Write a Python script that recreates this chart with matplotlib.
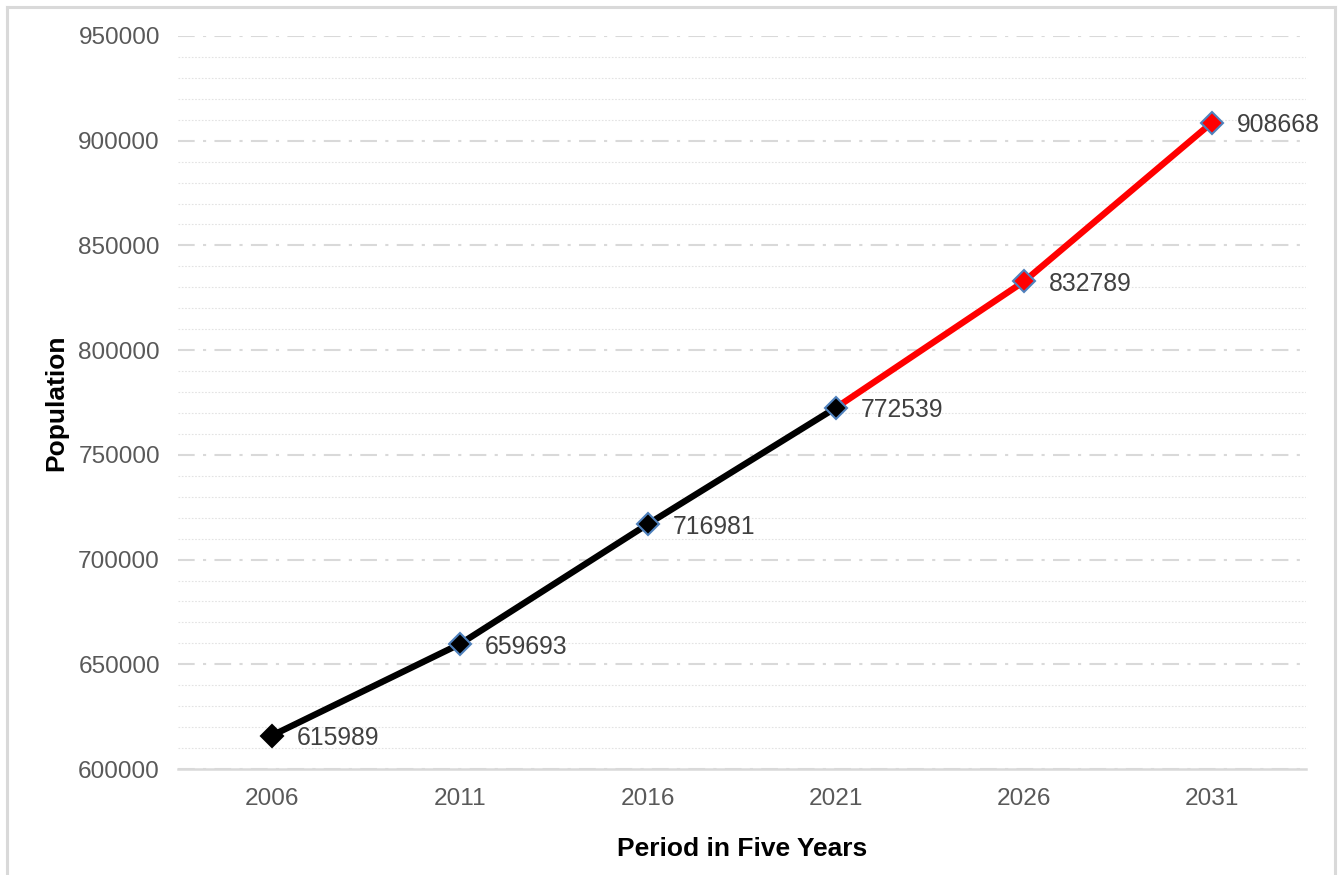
import matplotlib
matplotlib.use("Agg")
import matplotlib.pyplot as plt
from matplotlib.lines import Line2D
from matplotlib.ticker import MultipleLocator

# Data
years = ["2006", "2011", "2016", "2021", "2026", "2031"]
population = [615989, 659693, 716981, 772539, 832789, 908668]
n_actual = 4  # 2006-2021 are census values, the rest are projections

plt.rcParams["font.family"] = ["Liberation Sans", "DejaVu Sans"]

fig = plt.figure(figsize=(13.4, 8.75), dpi=100)
ax = fig.add_axes([178 / 1340, 1 - 769 / 875, 1128 / 1340, 733 / 875])

x = list(range(len(years)))

# Lines: black for actual, red for projected
ax.plot(x[:n_actual], population[:n_actual], color="black", lw=4.6,
        solid_capstyle="butt", zorder=3)
ax.plot(x[n_actual - 1:], population[n_actual - 1:], color="#ff0000", lw=4.6,
        solid_capstyle="butt", zorder=3)

# Markers and value labels
for i, (xi, yi) in enumerate(zip(x, population)):
    face = "black" if i < n_actual else "#ff0000"
    edge = "black" if i == 0 else "#4f81bd"
    ax.plot(xi, yi, marker="D", ms=11, mfc=face, mec=edge, mew=1.5, zorder=4)
    ax.annotate(str(yi), (xi, yi), xytext=(18, -2), textcoords="offset points",
                va="center", ha="left", fontsize=17.8, color="#404040")

ax.set_xlim(-0.5, len(years) - 0.5)
ax.set_ylim(600000, 950000)
ax.set_xticks(x)
ax.set_xticklabels(years)
ax.yaxis.set_major_locator(MultipleLocator(50000))
ax.yaxis.set_minor_locator(MultipleLocator(10000))

ax.grid(which="major", axis="y", color="#d9d9d9", lw=1.5, ls=(0, (8, 4, 1.5, 4)))
ax.grid(which="minor", axis="y", color="#e3e3e3", lw=0.8, ls=(0, (1.5, 1.5)))
ax.set_axisbelow(True)

for side in ["top", "right", "left"]:
    ax.spines[side].set_visible(False)
ax.spines["bottom"].set_color("#d9d9d9")
ax.spines["bottom"].set_linewidth(1.8)

ax.tick_params(axis="both", which="both", length=0, labelsize=17.6,
               labelcolor="#595959")
ax.tick_params(axis="y", pad=13)
ax.tick_params(axis="x", pad=14)

ax.set_ylabel("Population", fontsize=19, fontweight="bold")
ax.set_xlabel("Period in Five Years", fontsize=19, fontweight="bold")
ax.yaxis.set_label_coords(-110 / 1128, 0.5)
ax.xaxis.set_label_coords(0.5, -68 / 733)

# Light grey frame around the chart (bottom edge runs off the image)
frame = dict(color="#d9d9d9", lw=2.2, transform=fig.transFigure)
fig.add_artist(Line2D([7 / 1340, 7 / 1340], [0, 1 - 7 / 875], **frame))
fig.add_artist(Line2D([7 / 1340, 1335 / 1340], [1 - 7 / 875, 1 - 7 / 875], **frame))
fig.add_artist(Line2D([1335 / 1340, 1335 / 1340], [0, 1 - 7 / 875], **frame))

fig.savefig("out.png", dpi=100, facecolor="white")
